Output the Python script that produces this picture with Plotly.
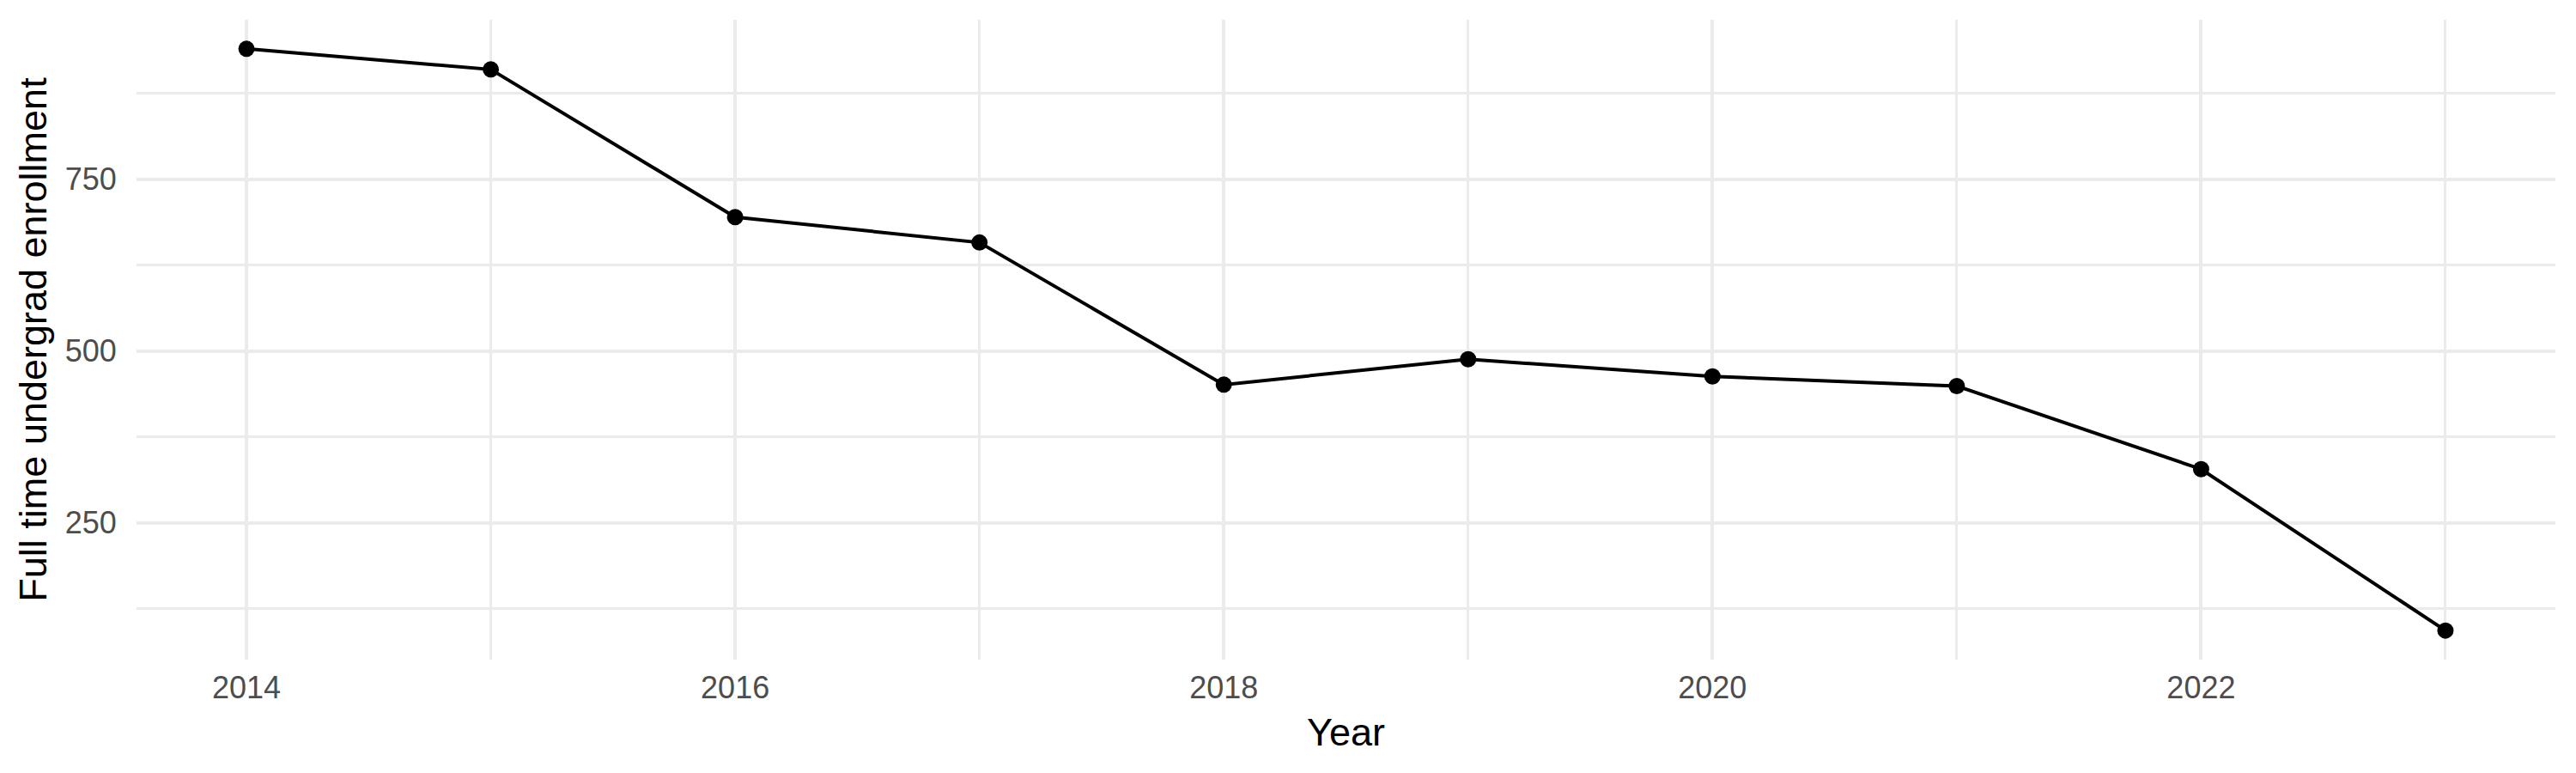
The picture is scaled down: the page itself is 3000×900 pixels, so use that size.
import plotly.graph_objects as go

years = [2014, 2015, 2016, 2017, 2018, 2019, 2020, 2021, 2022, 2023]
enrollment = [940, 910, 695, 658, 451, 488, 463, 449, 328, 93]

x_label = "Year"
y_label = "Full time undergrad enrollment"

grid = "#EBEBEB"
font = "Liberation Sans, Arial, sans-serif"

fig = go.Figure()
fig.add_trace(go.Scatter(
    x=years, y=enrollment, mode="lines+markers",
    line=dict(color="black", width=4),
    marker=dict(color="black", size=19),
    showlegend=False))

# ggplot-ish 5% padding on both axes
pad_x = (max(years) - min(years)) * 0.05
pad_y = (max(enrollment) - min(enrollment)) * 0.05

fig.update_xaxes(
    range=[min(years) - pad_x, max(years) + pad_x],
    tick0=2014, dtick=2,
    showgrid=True, gridcolor=grid, gridwidth=4,
    minor=dict(dtick=1, tick0=2014, showgrid=True, gridcolor=grid, gridwidth=2.5),
    zeroline=False, showline=False, automargin=False,
    ticks="outside", ticklen=1, tickcolor="rgba(0,0,0,0)",
    tickfont=dict(size=36, color="#4D4D4D", family=font),
    title=dict(text=x_label, font=dict(size=45, color="black", family=font), standoff=16),
)
fig.update_yaxes(
    range=[min(enrollment) - pad_y, max(enrollment) + pad_y],
    tick0=250, dtick=250,
    showgrid=True, gridcolor=grid, gridwidth=4,
    minor=dict(dtick=125, tick0=125, showgrid=True, gridcolor=grid, gridwidth=2.5),
    zeroline=False, showline=False, automargin=False,
    ticks="outside", ticklen=15, tickcolor="rgba(0,0,0,0)",
    tickfont=dict(size=36, color="#4D4D4D", family=font),
    title=dict(text=y_label, font=dict(size=45, color="black", family=font), standoff=6),
)

fig.update_layout(
    width=3000, height=900,
    paper_bgcolor="white", plot_bgcolor="white",
    margin=dict(l=159, r=24, t=23, b=132),
)

# drop the page's default body margin so the figure sits at 0,0
fig.write_html("out.html", config={"displayModeBar": False},
               post_script="document.body.style.margin='0';")
